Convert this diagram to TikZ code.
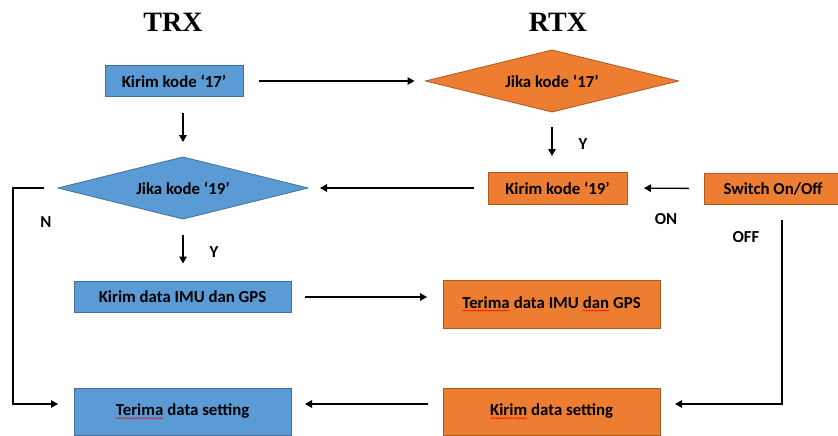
\documentclass[tikz,border=0pt]{standalone}
\usepackage{fontspec}
\setmainfont{Carlito}
\newfontfamily\titlefont{Liberation Serif}
\usetikzlibrary{shapes.geometric,arrows.meta,decorations.pathmorphing}
\definecolor{bfill}{RGB}{91,155,213}
\definecolor{bdraw}{RGB}{65,113,156}
\definecolor{ofill}{RGB}{237,125,49}
\definecolor{odraw}{RGB}{174,90,33}
\newcommand\squig[1]{\tikz[baseline=(sq.base)]{\node[rectangle,inner sep=0pt,outer sep=0pt,minimum width=0pt,minimum height=0pt,draw=none,fill=none](sq){#1};\draw[draw=red,line width=0.45pt,decorate,decoration={snake,amplitude=0.5pt,segment length=2.2pt}]([yshift=-2.2pt]sq.base west)--([yshift=-2.2pt]sq.base east);}}
\begin{document}
\begin{tikzpicture}[x=1pt,y=-1pt,
  txt/.style={font=\bfseries\fontsize{16.8}{19}\selectfont},
  bluebox/.style={txt,draw=bdraw,fill=bfill,line width=0.8pt,inner sep=0pt,outer sep=0pt},
  orangebox/.style={txt,draw=odraw,fill=ofill,line width=0.8pt,inner sep=0pt,outer sep=0pt},
  dia/.style={diamond,aspect=4,inner sep=0pt,outer sep=0pt},
  arr/.style={draw=black,line width=1.3pt,-{Triangle[length=7pt,width=7.5pt]}},
  lbl/.style={font=\bfseries\fontsize{16.8}{19}\selectfont,inner sep=0pt},
  ttl/.style={font=\titlefont\bfseries\fontsize{28}{32}\selectfont,inner sep=0pt}]
\useasboundingbox (0,0) rectangle (838,436);

\node[ttl] (trx) at (173,22) {TRX};
\node[ttl] (rtx) at (558,22) {RTX};

\node[bluebox,minimum width=138pt,minimum height=31pt] (k17) at (174,81) {Kirim kode ‘17’};
\node[orangebox,dia,minimum width=253pt,minimum height=62pt] (d17) at (552,81) {Jika kode ‘17’};
\node[bluebox,dia,minimum width=250pt,minimum height=62pt] (d19) at (183,188) {Jika kode ‘19’};
\node[orangebox,minimum width=139pt,minimum height=32pt] (k19) at (557.5,188) {Kirim kode ‘19’};
\node[orangebox,minimum width=138pt,minimum height=31pt] (sw) at (773,188.5) {Switch On/Off};
\node[bluebox,minimum width=217pt,minimum height=31pt] (imu) at (182.5,297) {Kirim data IMU dan GPS};
\node[orangebox,minimum width=217pt,minimum height=48pt] (timu) at (551.5,304) {\squig{Terima} data IMU \squig{dan} GPS};
\node[bluebox,minimum width=217pt,minimum height=47pt] (tset) at (182.5,411.5) {\squig{Terima} data setting};
\node[orangebox,minimum width=217pt,minimum height=47pt] (kset) at (551.5,411.5) {\squig{Kirim} data setting};

\coordinate (tsetin) at ([shift={(0,-7.5)}]tset.west);
\coordinate (tsetout) at ([shift={(0,-7.5)}]tset.east);
\coordinate (ksetin) at ([shift={(0,-7.5)}]kset.east);
\coordinate (ksetout) at ([shift={(0,-7.5)}]kset.west);

\draw[arr,shorten <=16pt,shorten >=11pt] (k17.east) -- (d17.west);
\draw[arr,shorten <=16pt,shorten >=15pt] (d19.north |- k17.south) -- (d19.north);
\draw[arr,shorten <=15pt,shorten >=16pt] (d17.south) -- (d17.south |- k19.north);
\draw[arr,shorten <=14pt,shorten >=12pt] (k19.west) -- (d19.east);
\draw[arr,shorten <=15pt,shorten >=17pt] (sw.west) -- (k19.east);
\draw[arr,shorten <=16pt,shorten >=18pt] (d19.south) -- (d19.south |- imu.north);
\draw[arr,shorten <=14pt,shorten >=16pt] (imu.east) -- (imu.east -| timu.west);
\draw[arr,shorten <=15pt,shorten >=14pt] (ksetout) -- (tsetout);
\draw[arr,shorten >=16pt] ([xshift=-14pt]d19.west) -- ++(-31,0) |- (tsetin);
\draw[arr,shorten >=15pt] ([yshift=-16pt]sw.south -| 782,0) -- (782,404) -- (ksetin);

\node[lbl] (y1) at (583,144) {Y};
\node[lbl] (y2) at (214,252) {Y};
\node[lbl] (n) at (46,222) {N};
\node[lbl] (on) at (666,219) {ON};
\node[lbl] (off) at (746,237) {OFF};
\end{tikzpicture}
\end{document}
